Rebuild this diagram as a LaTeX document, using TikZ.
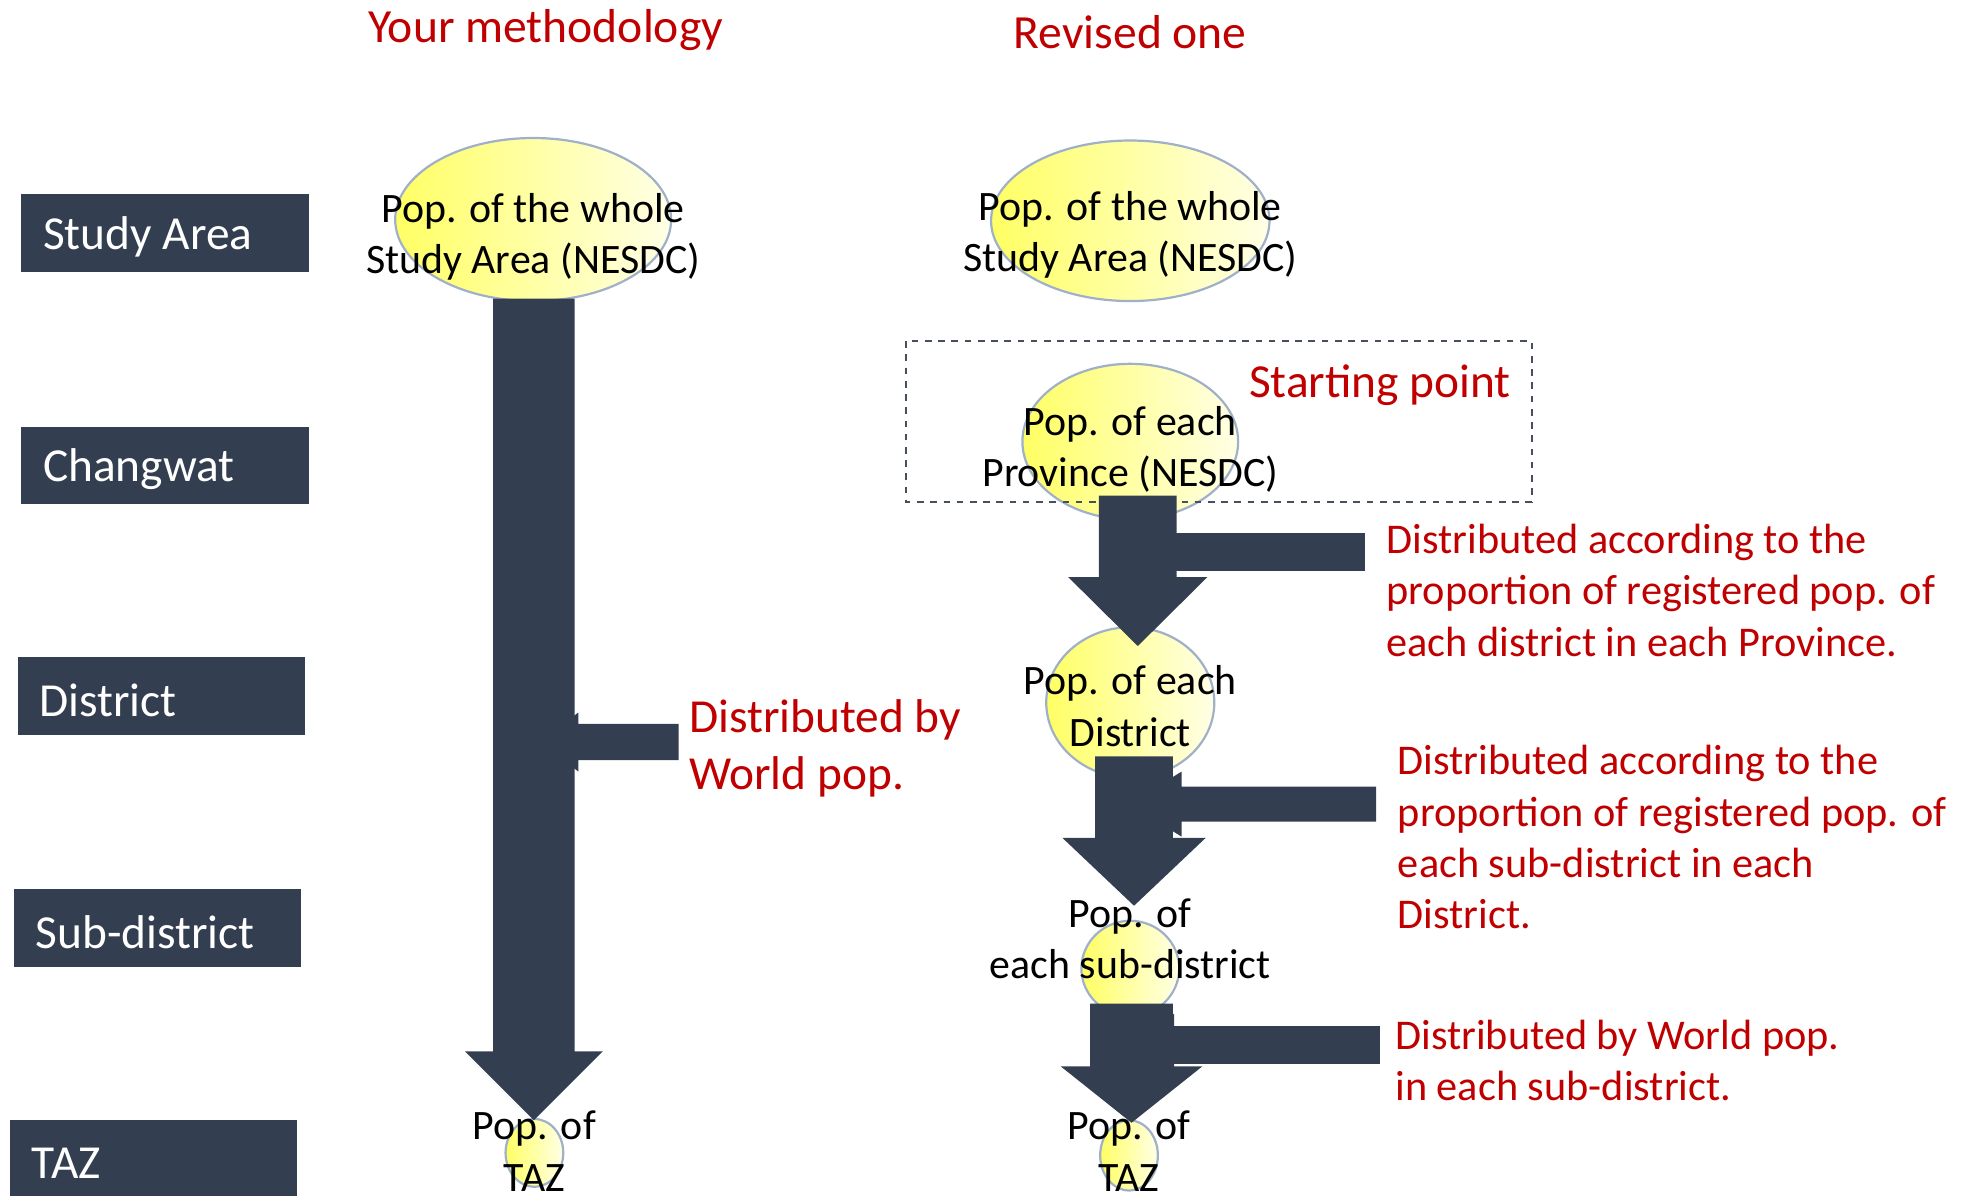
\documentclass[tikz,border=0pt]{standalone}
\usepackage{fontspec}
\setmainfont{Carlito}
\usetikzlibrary{shapes.geometric}
\definecolor{slate}{RGB}{51,63,80}
\definecolor{redtxt}{RGB}{192,0,0}
\definecolor{ellborder}{RGB}{160,176,200}
\definecolor{yelL}{RGB}{255,255,100}
\definecolor{yelR}{RGB}{255,255,230}
\definecolor{dashc}{RGB}{70,80,95}
% block arrow: cx, ytop, shaft half width, yhead, head half width, ytip
\newcommand\blockarrow[6]{%
  \fill[slate] ({#1-#3},#2) -- ({#1+#3},#2) -- ({#1+#3},#4) -- ({#1+#5},#4)
    -- (#1,#6) -- ({#1-#5},#4) -- ({#1-#3},#4) -- cycle;}
% side arrow pointing left: xright, ytop, ybot, xbase, headtop, headbot, xtip
\newcommand\sidearrow[7]{%
  \fill[slate] (#1,#2) -- (#4,#2) -- (#4,#5) -- (#7,{(#2+#3)/2}) -- (#4,#6)
    -- (#4,#3) -- (#1,#3) -- cycle;}
\begin{document}
\begin{tikzpicture}[x=0.02cm,y=-0.02cm,
  levelbox/.style={fill=slate, minimum height=1.24cm, minimum width=4.58cm, inner sep=0pt},
  leveltxt/.style={text=white, anchor=west, inner sep=0pt,
     font=\fontsize{21.5}{26}\selectfont},
  popell/.style={ellipse, draw=ellborder, line width=1pt, left color=yelL,
     right color=yelR, inner sep=0pt},
  poptxt/.style={align=center, inner sep=0pt, font=\fontsize{19}{23.3}\selectfont},
  redlbl/.style={text=redtxt, align=left, anchor=west, inner sep=0pt,
     font=\fontsize{19}{23.3}\selectfont},
  bigred/.style={text=redtxt, inner sep=0pt, font=\fontsize{21.5}{25.6}\selectfont}
  ]
\useasboundingbox (0,0) rectangle (1568,953);

% titles
\node[bigred, font=\fontsize{21.6}{26}\selectfont] (tl) at (435,24) {Your methodology};
\node[bigred, font=\fontsize{21.6}{26}\selectfont] (tr) at (901,26) {Revised one};

% level boxes
\node[levelbox] (lsa) at (131.5,186) {};
\node[levelbox] (lch) at (131.5,371) {};
\node[levelbox] (ldi) at (128.5,555) {};
\node[levelbox] (lsd) at (125.5,740) {};
\node[levelbox, minimum height=1.36cm] (ltaz) at (122.5,927) {};
\node[leveltxt] (tsa) at (34,189) {Study Area};
\node[leveltxt] (tch) at (34,374) {Changwat};
\node[leveltxt] (tdi) at (31,558) {District};
\node[leveltxt] (tsd) at (28,743) {Sub-district};
\node[leveltxt] (ttaz) at (25,927) {TAZ};

% ellipses
\node[popell, minimum width=4.4cm, minimum height=2.6cm] (e1) at (425,175) {};
\node[popell, minimum width=4.44cm, minimum height=2.56cm] (e2) at (901,176) {};
\node[popell, minimum width=3.44cm, minimum height=2.48cm] (e3) at (901,352) {};
\node[popell, minimum width=2.68cm, minimum height=2.4cm] (e4) at (901,560) {};
\node[popell, minimum width=1.56cm, minimum height=1.52cm] (e5) at (901,772) {};
\node[popell, minimum width=0.92cm, minimum height=1.12cm] (e6) at (900,921) {};
\node[popell, minimum width=0.92cm, minimum height=1.08cm] (e7) at (426,919) {};

% dashed starting box
\draw[dashc, dashed, line width=0.9pt] (722,272) rectangle (1221,400);
\node[bigred] (sp) at (1100,307) {Starting point};

% side arrows
\sidearrow{541}{577}{606}{461}{568}{615}{430}
\sidearrow{1088}{425}{455}{938}{425}{455}{900}
\sidearrow{1097}{627}{655}{942}{615}{667}{900}
\sidearrow{1100}{818}{848}{936}{808}{858}{900}

% main arrows
\blockarrow{425.5}{238}{32.5}{838}{55}{893}
\blockarrow{907}{395}{31}{460}{55.5}{515}
\blockarrow{904}{603}{31}{668}{57}{722}
\blockarrow{902}{800}{33}{850}{56.5}{895}

% ellipse texts
\node[poptxt] (t1) at (425,189) {Pop. of the whole\\Study Area (NESDC)};
\node[poptxt] (t2) at (901,187) {Pop. of the whole\\Study Area (NESDC)};
\node[poptxt] (t3) at (901,358) {Pop. of each\\Province (NESDC)};
\node[poptxt] (t4) at (901,563) {Pop. of each\\District};
\node[poptxt] (t5) at (901,748.5) {Pop. of\\each sub-district};
\node[poptxt] (t6) at (900,917.5) {Pop. of\\TAZ};
\node[poptxt] (t7) at (426,917.5) {Pop. of\\TAZ};

% red explanations
\node[bigred, align=left, anchor=west] (rl) at (549,596.5) {Distributed by\\World pop.};
\node[redlbl, font=\fontsize{19.2}{23.3}\selectfont] (r1) at (1105,470.5) {Distributed according to the\\proportion of registered pop. of\\each district in each Province.};
\node[redlbl, font=\fontsize{19.2}{23.3}\selectfont] (r2) at (1114,667.5) {Distributed according to the\\proportion of registered pop. of\\each sub-district in each\\District.};
\node[redlbl, font=\fontsize{19.2}{23.3}\selectfont] (r3) at (1112,845.5) {Distributed by World pop.\\in each sub-district.};
\end{tikzpicture}
\end{document}
